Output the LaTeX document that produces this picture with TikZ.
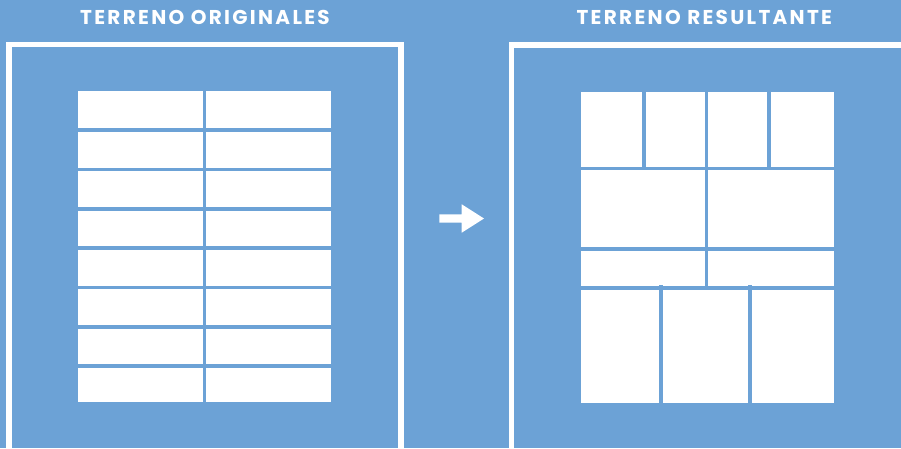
\documentclass[tikz,border=0pt]{standalone}
\usepackage{fontspec}
\setmainfont{Poppins}
\newfontfamily\rotulo[LetterSpace=11.5]{Poppins}
\definecolor{terreno}{HTML}{6CA2D6}
\begin{document}
\begin{tikzpicture}[x=1pt,y=-1pt,
    marco/.style={draw=white,line width=5.5pt},
    lote/.style={fill=white},
    linde/.style={draw=terreno,line width=3.8pt},
    titulo/.style={text=white,inner sep=0pt,font=\rotulo\bfseries\fontsize{20}{21}\selectfont}]
  \clip (0,0) rectangle (901,448);
  \fill[terreno] (0,0) rectangle (901,448);
  % titulos
  \node[titulo] (original) at (205,17.3) {TERRENO ORIGINALES};
  \node[titulo] (resultante) at (704.3,17.3) {TERRENO RESULTANTE};
  % marcos
  \draw[marco] (9,44.5) rectangle (401,451);
  \draw[marco] (511.5,45) rectangle (905,451);
  % terreno original: 8 x 2 lotes
  \fill[lote] (78.3,91) rectangle (331,402);
  \foreach \y in {130.3,169.5,209,248.2,287.5,327,366}
    \draw[linde] (78.3,\y) -- (331,\y);
  \draw[linde] (204.5,91) -- (204.5,402);
  % flecha
  \fill[white] (439.3,214.3) -- (461.7,214.3) -- (461.7,204.3) -- (484,218.5)
    -- (461.7,232.7) -- (461.7,222.7) -- (439.3,222.7) -- cycle;
  % terreno resultante
  \fill[lote] (581.3,92.3) rectangle (834,402.7);
  \foreach \y in {168.4,248.7,288}
    \draw[linde] (581.3,\y) -- (834,\y);
  \foreach \x in {644.3,768.7}
    \draw[linde] (\x,92.3) -- (\x,170);
  \draw[linde] (706.5,92.3) -- (706.5,290);
  \foreach \x in {661,750.3}
    \draw[linde] (\x,285) -- (\x,402.7);
\end{tikzpicture}
\end{document}
